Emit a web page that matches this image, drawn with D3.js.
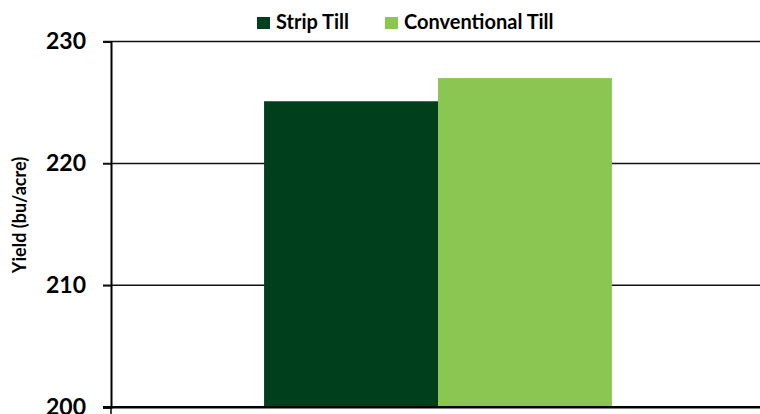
<!DOCTYPE html>
<html><head><meta charset="utf-8">
<script src="https://cdn.jsdelivr.net/npm/d3@7"></script>
<style>body{margin:0;background:#fff}svg{display:block}</style>
</head><body>
<svg id="c" width="760" height="414"></svg>
<script>
const categories = ["Yield"];
const seriesNames = ["Strip Till", "Conventional Till"];
const seriesColors = ["#003f1c", "#8bc653"];
const stripTill = [225.1];
const conventionalTill = [227.0];
const yTicks = [200, 210, 220, 230];

const svg = d3.select("#c");
const W = 760, H = 414;
const m = {left: 111, right: -5, top: 41.5, bottom: 6.7};
const font = "Lato, 'Open Sans', sans-serif";

const y = d3.scaleLinear().domain([200, 230]).range([H - m.bottom, m.top]);
const x0 = d3.scaleBand().domain(categories).range([m.left, W - m.right]).paddingInner(0).paddingOuter(0.44);
const x1 = d3.scaleBand().domain(seriesNames).range([0, x0.bandwidth()]).padding(0);

// gridlines
svg.append("g").selectAll("line").data(yTicks.filter(d => d > 200)).join("line")
  .attr("x1", m.left - 8).attr("x2", W)
  .attr("y1", d => y(d)).attr("y2", d => y(d))
  .attr("stroke", "#111").attr("stroke-width", 1.5);

// bars
const data = categories.map((c, i) => ({cat: c, vals: [stripTill[i], conventionalTill[i]]}));
const g = svg.append("g").selectAll("g").data(data).join("g")
  .attr("transform", d => `translate(${x0(d.cat)},0)`);
g.selectAll("rect").data(d => d.vals.map((v, j) => ({name: seriesNames[j], v, j}))).join("rect")
  .attr("x", d => x1(d.name)).attr("width", x1.bandwidth())
  .attr("y", d => y(d.v)).attr("height", d => y(200) - y(d.v))
  .attr("fill", d => seriesColors[d.j]);

// y axis
const yAxis = d3.axisLeft(y).tickValues(yTicks).tickSize(8).tickPadding(17).tickFormat(d3.format("d"));
const ya = svg.append("g").attr("transform", `translate(${m.left},0)`).call(yAxis);
ya.select(".domain").attr("stroke", "#000").attr("stroke-width", 2);
ya.selectAll(".tick line").attr("stroke", "#111").attr("stroke-width", 1.5);
ya.selectAll(".tick text").attr("font-family", font).attr("font-weight", "bold")
  .attr("font-size", 23).attr("fill", "#000");

// x axis baseline
svg.append("line").attr("x1", m.left - 8).attr("x2", W).attr("y1", y(200)).attr("y2", y(200))
  .attr("stroke", "#000").attr("stroke-width", 2.5);
svg.append("line").attr("x1", m.left).attr("x2", m.left).attr("y1", y(200)).attr("y2", H)
  .attr("stroke", "#000").attr("stroke-width", 1.5);

// y title
svg.append("text").attr("transform", `translate(26,215) rotate(-90)`)
  .attr("text-anchor", "middle").attr("font-family", font).attr("font-weight", "bold")
  .attr("font-size", 18).attr("fill", "#000").text("Yield (bu/acre)");

// legend
const legX = [257, 385];
const lg = svg.append("g").selectAll("g").data(seriesNames).join("g")
  .attr("transform", (d, i) => `translate(${legX[i]},17)`);
lg.append("rect").attr("width", 13).attr("height", 12).attr("fill", (d, i) => seriesColors[i]);
lg.append("text").attr("x", 19).attr("y", 12).attr("font-family", font).attr("font-weight", "bold")
  .attr("font-size", 20).attr("fill", "#000").text(d => d);
</script>
</body></html>
